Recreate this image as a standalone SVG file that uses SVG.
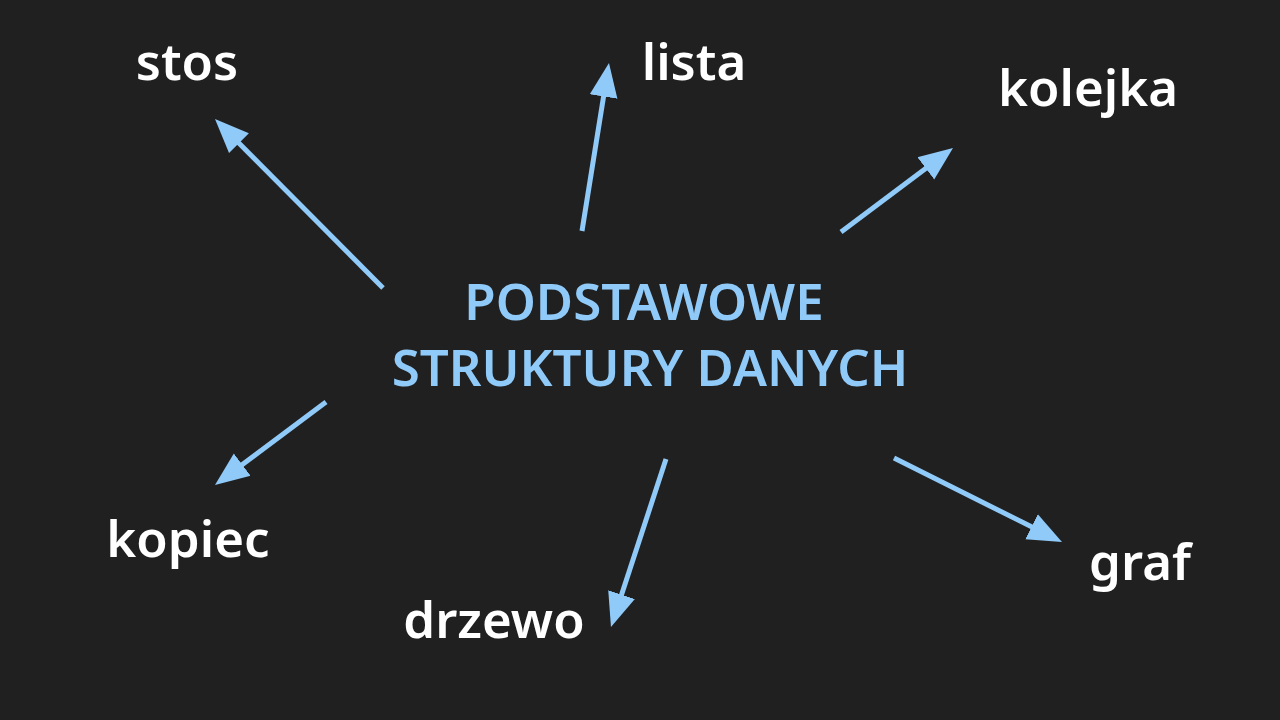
<svg xmlns="http://www.w3.org/2000/svg" width="1280" height="720" viewBox="0 0 1280 720">
<defs>
<marker id="ah" markerUnits="userSpaceOnUse" markerWidth="36" markerHeight="32" viewBox="0 0 36 32" refX="14" refY="16" orient="auto">
<path d="M0,2 L34,16 L0,30 Z" fill="#90CAF9"/>
</marker>
</defs>
<style>
.lbl{font-family:"Noto Sans","Open Sans","DejaVu Sans",sans-serif;font-size:51px;font-weight:600;fill:#ffffff;text-anchor:middle}
.title{font-family:"Noto Sans","Open Sans","DejaVu Sans",sans-serif;font-size:51px;font-weight:600;fill:#90CAF9;text-anchor:middle}
.conn{stroke:#90CAF9;stroke-width:5;fill:none;marker-end:url(#ah)}
</style>
<rect width="1280" height="720" fill="#202020"/>
<g id="connectors">
<line class="conn" x1="383" y1="288" x2="229.1" y2="133.2"/>
<line class="conn" x1="582" y1="231" x2="605.8" y2="82.7"/>
<line class="conn" x1="841" y1="232" x2="937" y2="160"/>
<line class="conn" x1="326" y1="402" x2="231" y2="473"/>
<line class="conn" x1="666" y1="459" x2="617.2" y2="608"/>
<line class="conn" x1="894" y1="458" x2="1044.1" y2="533.1"/>
</g>
<g id="center">
<text class="title" x="644" y="320">PODSTAWOWE</text>
<text class="title" x="650" y="386">STRUKTURY DANYCH</text>
</g>
<g id="stos"><text class="lbl" x="187" y="80">stos</text></g>
<g id="lista"><text class="lbl" x="694" y="80">lista</text></g>
<g id="kolejka"><text class="lbl" x="1088" y="106">kolejka</text></g>
<g id="kopiec"><text class="lbl" x="188" y="557">kopiec</text></g>
<g id="drzewo"><text class="lbl" x="494" y="638">drzewo</text></g>
<g id="graf"><text class="lbl" x="1140" y="580">graf</text></g>
</svg>
